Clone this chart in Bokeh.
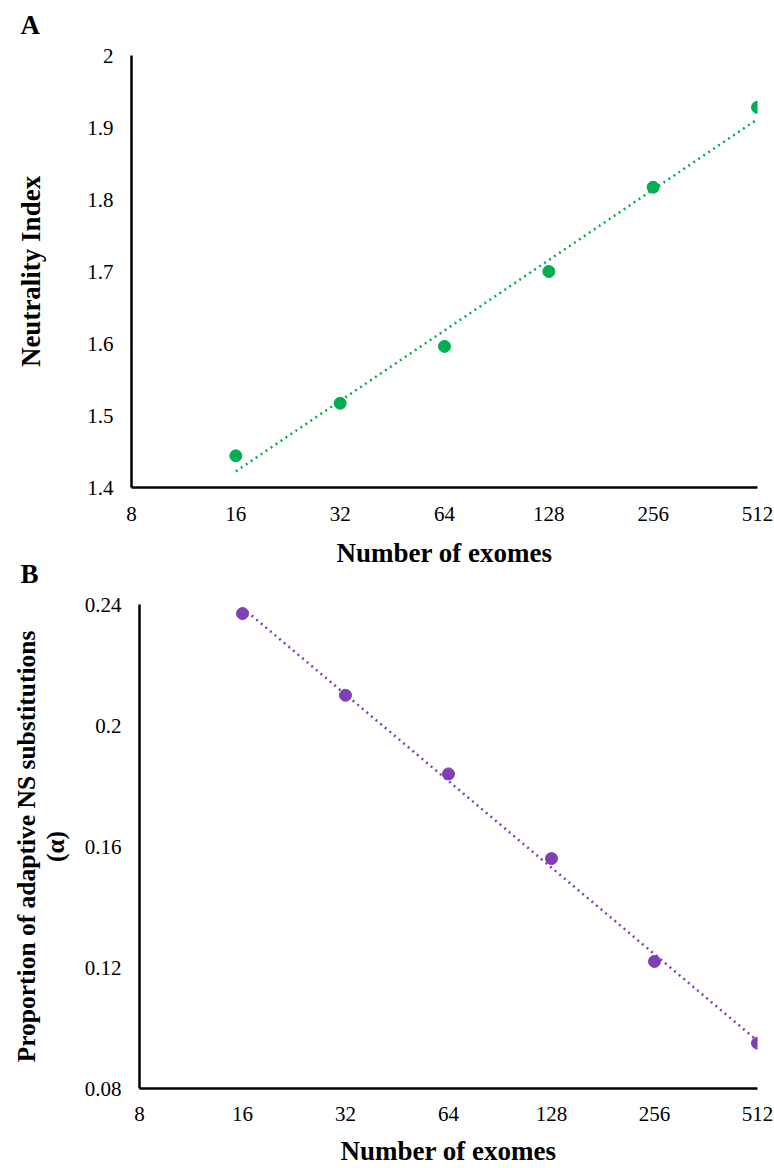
import numpy as np
from bokeh.plotting import figure
from bokeh.layouts import column, row
from bokeh.models import Range1d, FixedTicker
from bokeh.embed import file_html
from bokeh.resources import INLINE

# ---- data ----
exomes = [16, 32, 64, 128, 256, 512]
neutrality_index = [1.444, 1.517, 1.596, 1.700, 1.817, 1.928]
alpha = [0.237, 0.210, 0.184, 0.156, 0.122, 0.095]
x_ticks = [8, 16, 32, 64, 128, 256, 512]
yticks_a = [1.4, 1.5, 1.6, 1.7, 1.8, 1.9, 2.0]
yticks_b = [0.08, 0.12, 0.16, 0.20, 0.24]

GREEN = "#00B050"
PURPLE = "#7F3FB5"
FONT = "Liberation Serif"


def trend(xs, ys):
    lx = np.log2(xs)
    k, b = np.polyfit(lx, ys, 1)
    return [xs[0], xs[-1]], [k * lx[0] + b, k * lx[-1] + b]


def style(p, yticks, ylabel, panel, left):
    p.xaxis.ticker = FixedTicker(ticks=x_ticks)
    p.yaxis.ticker = FixedTicker(ticks=yticks)
    p.xaxis.major_label_overrides = {t: str(t) for t in x_ticks}
    p.yaxis.major_label_overrides = {t: ("%g" % t) for t in yticks}
    p.xgrid.visible = False
    p.ygrid.visible = False
    p.outline_line_color = None
    p.border_fill_color = None
    p.background_fill_color = None
    for ax in (p.xaxis, p.yaxis):
        ax.axis_line_width = 2.5
        ax.axis_line_color = "black"
        ax.major_tick_out = 0
        ax.major_tick_in = 0
        ax.minor_tick_out = 0
        ax.minor_tick_in = 0
        ax.major_label_text_font = FONT
        ax.major_label_text_font_size = "21px"
        ax.major_label_text_color = "black"
        ax.axis_label_text_font = FONT
        ax.axis_label_text_font_size = "27px"
        ax.axis_label_text_font_style = "bold"
        ax.axis_label_text_color = "black"
        ax.axis_label_text_line_height = 1.0
    p.xaxis.axis_label = "Number of exomes"
    p.yaxis.axis_label = ylabel
    p.yaxis.major_label_standoff = 18
    # panel letter
    p.title.text = panel
    p.title.align = "left"
    p.title.offset = 20 - left
    p.title.standoff = 31
    p.title.text_font = FONT
    p.title.text_font_size = "27px"
    p.title.text_font_style = "bold"
    p.title.text_color = "black"


# ---- panel A ----
pa = figure(width=774, height=585, x_axis_type="log", output_backend="svg",
            toolbar_location=None, x_range=Range1d(8, 512), y_range=Range1d(1.4, 2.0),
            min_border_top=65, min_border_bottom=88, min_border_left=131, min_border_right=17,
            margin=(-10, 0, 0, 0))
style(pa, yticks_a, "Neutrality Index", "A", 131)
pa.yaxis.axis_label_standoff = 38
pa.xaxis.major_label_standoff = 19
pa.xaxis.axis_label_standoff = 14
tx, ty = trend(exomes, neutrality_index)
pa.line(tx, ty, line_color=GREEN, line_width=2.5, line_dash="2 4")
pa.scatter(exomes, neutrality_index, size=12, fill_color=GREEN, line_color=GREEN)

# ---- panel B ----
pb = figure(width=774, height=630, x_axis_type="log", output_backend="svg",
            toolbar_location=None, x_range=Range1d(8, 512), y_range=Range1d(0.08, 0.24),
            min_border_top=66, min_border_bottom=79, min_border_left=139, min_border_right=17,
            margin=(-37, 0, 0, 0))
style(pb, yticks_b, "Proportion of adaptive NS substitutions\n(α)", "B", 139)
pb.yaxis.axis_label_text_font_size = "25.5px"
pb.yaxis.axis_label_standoff = 12
pb.xaxis.major_label_standoff = 18
pb.xaxis.axis_label_standoff = 12
tx, ty = trend(exomes, alpha)
pb.line(tx, ty, line_color=PURPLE, line_width=2.5, line_dash="2 4")
pb.scatter(exomes, alpha, size=12, fill_color=PURPLE, line_color=PURPLE)

layout = column(row(pa), row(pb), spacing=0)
open("out.html", "w").write(file_html(layout, INLINE))
